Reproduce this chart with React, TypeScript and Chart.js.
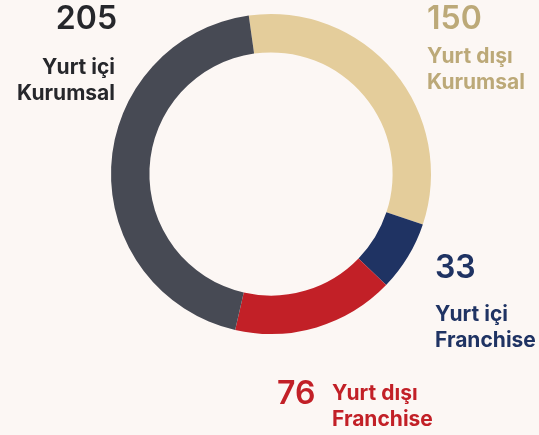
import React, { useEffect, useRef } from "react";
import { Chart, registerables } from "chart.js";

Chart.register(...registerables);

const categories = ["Yurt dışı Kurumsal", "Yurt içi Franchise", "Yurt dışı Franchise", "Yurt içi Kurumsal"];
const values = [150, 33, 76, 205];
const labelLines = [["Yurt dışı", "Kurumsal"], ["Yurt içi", "Franchise"], ["Yurt dışı", "Franchise"], ["Yurt içi", "Kurumsal"]];
const colors = ["#e4cd9b", "#1f3363", "#c22027", "#474a54"];
const textColors = ["#bca978", "#1f3363", "#c22027", "#26272b"];

// label layout (style): offsets relative to doughnut centre
const labelLayout = [
  { nx: 156, ny: -145, align: "left", lx: 156, ly: -111, inline: false },
  { nx: 164, ny: 104, align: "left", lx: 164, ly: 147, inline: false },
  { nx: 6, ny: 230, align: "left", lx: 61, ly: 226, inline: true },
  { nx: -154, ny: -145, align: "right", lx: -156, ly: -100, inline: false },
];

const labelPlugin = {
  id: "sideLabels",
  afterDraw(chart: any) {
    const ctx = chart.ctx;
    const meta = chart.getDatasetMeta(0);
    const arc = meta.data[0];
    const cx = arc.x;
    const cy = arc.y;
    ctx.save();
    ctx.textBaseline = "alphabetic";
    values.forEach((v, i) => {
      const L = labelLayout[i];
      ctx.fillStyle = textColors[i];
      ctx.textAlign = L.align;
      ctx.font = "600 32px Inter";
      ctx.fillText(String(v), cx + L.nx, cy + L.ny);
      ctx.font = "700 21px Inter";
      labelLines[i].forEach((line, j) => {
        ctx.fillText(line, cx + L.lx, cy + L.ly + j * 25.5);
      });
    });
    ctx.restore();
  },
};

export default function App() {
  const ref = useRef<HTMLCanvasElement>(null);
  useEffect(() => {
    document.body.style.margin = "0";
    document.body.style.background = "#fcf7f4";
    const chart = new Chart(ref.current!, {
      type: "doughnut",
      data: {
        labels: categories,
        datasets: [
          {
            data: values,
            backgroundColor: colors,
            borderWidth: 0,
          },
        ],
      },
      options: {
        responsive: false,
        animation: false,
        rotation: -8,
        cutout: "76%",
        layout: { padding: { left: 111, right: 108, top: 14, bottom: 101 } },
        plugins: {
          legend: { display: false },
          tooltip: { enabled: false },
        },
      },
      plugins: [labelPlugin],
    });
    return () => chart.destroy();
  }, []);
  return (
    <div style={{ width: 539, height: 435, background: "#fcf7f4" }}>
      <canvas ref={ref} width={539} height={435} style={{ display: "block" }} />
    </div>
  );
}
